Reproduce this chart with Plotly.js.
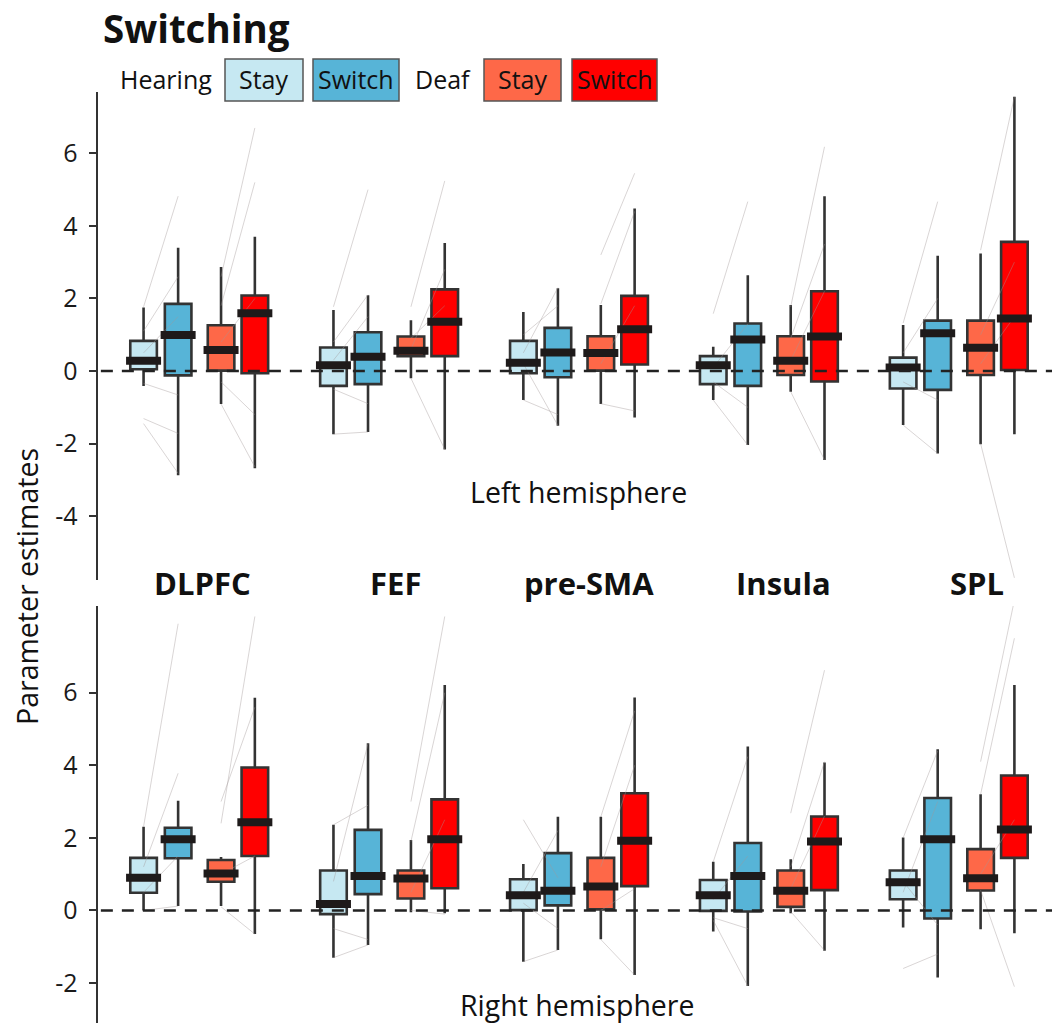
<!DOCTYPE html>
<html>
<head>
<meta charset="utf-8">
<script src="https://cdn.plot.ly/plotly-3.0.1.min.js"></script>
<style>html,body{margin:0;padding:0;background:#fff;}#chart{width:1052px;height:1026px;}</style>
</head>
<body>
<div id="chart"></div>
<script>
// ---------- DATA ----------
const rois = ['DLPFC', 'FEF', 'pre-SMA', 'Insula', 'SPL'];
const groupLabels = ['Hearing', 'Deaf'];
const conditionLabels = ['Stay', 'Switch'];
const panelTitles = ['Left hemisphere', 'Right hemisphere'];
const chartTitle = 'Switching';
const yAxisTitle = 'Parameter estimates';
const leftTickVals = [-4, -2, 0, 2, 4, 6];
const leftTickText = ['-4', '-2', '0', '2', '4', '6'];
const rightTickVals = [-2, 0, 2, 4, 6];
const rightTickText = ['-2', '0', '2', '4', '6'];

// per ROI: [lower whisker, q1, median, q3, upper whisker]
const leftHearingStay = [
  [-0.41, 0.05, 0.28, 0.83, 1.75],
  [-1.74, -0.41, 0.16, 0.65, 1.68],
  [-0.80, -0.06, 0.23, 0.83, 1.63],
  [-0.80, -0.36, 0.16, 0.41, 0.67],
  [-1.49, -0.48, 0.10, 0.37, 1.27]
];
const leftHearingSwitch = [
  [-2.87, -0.12, 0.99, 1.85, 3.40],
  [-1.68, -0.36, 0.39, 1.07, 2.09],
  [-1.51, -0.17, 0.51, 1.19, 2.28],
  [-2.04, -0.41, 0.87, 1.31, 2.64],
  [-2.27, -0.52, 1.04, 1.39, 3.18]
];
const leftDeafStay = [
  [-0.91, 0.01, 0.58, 1.26, 2.87],
  [-0.20, 0.41, 0.56, 0.95, 1.40],
  [-0.91, 0.01, 0.50, 0.96, 1.82],
  [-0.57, -0.11, 0.28, 0.96, 1.82],
  [-2.02, -0.11, 0.64, 1.39, 3.24]
];
const leftDeafSwitch = [
  [-2.68, -0.06, 1.59, 2.08, 3.70],
  [-2.16, 0.41, 1.36, 2.25, 3.53],
  [-1.28, 0.18, 1.15, 2.07, 4.48],
  [-2.45, -0.29, 0.95, 2.20, 4.82],
  [-1.74, 0.03, 1.45, 3.56, 7.56]
];
const rightHearingStay = [
  [0.00, 0.49, 0.90, 1.45, 2.31],
  [-1.30, -0.10, 0.18, 1.10, 2.36],
  [-1.41, 0.01, 0.42, 0.86, 1.28],
  [-0.58, -0.01, 0.42, 0.84, 1.34],
  [-0.47, 0.31, 0.78, 1.10, 2.01]
];
const rightHearingSwitch = [
  [0.12, 1.44, 1.96, 2.28, 3.02],
  [-0.95, 0.45, 0.95, 2.22, 4.61],
  [-1.09, 0.14, 0.54, 1.58, 2.58],
  [-2.08, -0.03, 0.95, 1.86, 4.52],
  [-1.85, -0.22, 1.96, 3.10, 4.44]
];
const rightDeafStay = [
  [0.12, 0.79, 1.02, 1.39, 1.47],
  [-0.05, 0.33, 0.88, 1.10, 1.94],
  [-0.79, 0.03, 0.66, 1.45, 2.58],
  [-0.08, 0.10, 0.54, 1.10, 1.41],
  [-0.52, 0.55, 0.89, 1.69, 3.20]
];
const rightDeafSwitch = [
  [-0.65, 1.50, 2.43, 3.94, 5.86],
  [-0.08, 0.61, 1.96, 3.06, 6.21],
  [-1.78, 0.67, 1.92, 3.23, 5.87],
  [-1.11, 0.56, 1.90, 2.59, 4.08],
  [-0.63, 1.45, 2.23, 3.72, 6.21]
];

// individual subjects: [roi index, stay value, switch value]
const leftHearingSubjects = [
  [0, 1.77, 4.82], [0, -1.31, -1.72], [0, -1.45, -2.82], [0, 0.5, 1.5], [0, -0.34, -0.66], [0, 1.1, 2.6],
  [1, 1.77, 5.0], [1, -1.74, -1.68], [1, 0.3, 1.5], [1, -0.5, -0.9], [1, 0.8, 2.1],
  [2, 0.5, 2.3], [2, -0.8, -1.2], [2, 0.2, -1.5], [2, 1.0, 1.8],
  [3, 1.58, 4.67], [3, -0.8, -2.04], [3, 0.1, 1.3], [3, -0.3, -1.0],
  [4, 1.32, 4.67], [4, -1.49, -2.27], [4, 0.5, 2.0], [4, -0.3, -0.8]
];
const leftDeafSubjects = [
  [0, 2.6, 6.7], [0, 1.8, 5.2], [0, -0.91, -2.64], [0, -0.3, -1.2], [0, 0.8, 2.0],
  [1, 1.77, 5.24], [1, -0.2, -2.16], [1, 0.6, 2.8], [1, 0.9, 1.8],
  [2, 3.2, 5.45], [2, 1.85, 4.4], [2, -0.9, -1.1], [2, 0.2, 1.8],
  [3, 1.77, 6.18], [3, -0.57, -2.45], [3, 0.3, 2.2], [3, 0.9, 3.5],
  [4, 3.33, 7.56], [4, -2.0, -5.7], [4, 1.0, 3.0], [4, 0.2, 1.5]
];
const rightHearingSubjects = [
  [0, 2.31, 7.9], [0, 1.2, 3.78], [0, 0.0, 0.12], [0, 0.5, 1.5],
  [1, 2.36, 2.9], [1, -1.3, -0.95], [1, -0.5, -0.8], [1, 0.8, 4.6],
  [2, 2.5, 0.9], [2, -1.41, -1.09], [2, 0.5, 2.2], [2, 0.2, -0.5],
  [3, 1.34, 4.24], [3, -0.27, -2.08], [3, 0.3, 1.5], [3, -0.2, -0.5],
  [4, 2.0, 4.4], [4, -1.6, -1.2], [4, 0.5, 3.0], [4, 0.8, -0.4]
];
const rightDeafSubjects = [
  [0, 2.4, 8.1], [0, 3.0, 5.6], [0, 0.1, -0.65], [0, 1.0, 1.5],
  [1, 3.0, 8.1], [1, 1.9, 6.0], [1, 0.0, -0.1], [1, 0.5, 2.5],
  [2, 2.58, 5.5], [2, 1.2, 4.0], [2, -0.8, -1.78], [2, 0.0, 0.6],
  [3, 2.68, 6.62], [3, -0.03, -1.1], [3, 0.6, 2.6], [3, 1.2, 4.1],
  [4, 4.1, 8.55], [4, 3.2, 7.5], [4, 0.56, -2.1], [4, 1.0, 2.5]
];

// ---------- STYLE ----------
const FONT = 'Open Sans, DejaVu Sans, sans-serif';
const fills = ['#c6e8f2', '#57b4d7', '#fe6848', '#ff0000'];
const offsets = [-0.294, -0.112, 0.114, 0.292];
const boxW = 0.14;
const W = 1052, H = 1026, L = 98;
const px2x = p => (p - L) / (W - L);
const py2y = p => 1 - p / H;

const traces = [];
const panels = [
  {ax: 'x', ay: 'y', sets: [leftHearingStay, leftHearingSwitch, leftDeafStay, leftDeafSwitch],
   subj: [leftHearingSubjects, leftDeafSubjects]},
  {ax: 'x2', ay: 'y2', sets: [rightHearingStay, rightHearingSwitch, rightDeafStay, rightDeafSwitch],
   subj: [rightHearingSubjects, rightDeafSubjects]}
];

panels.forEach(p => {
  // boxes
  p.sets.forEach((s, k) => {
    traces.push({
      type: 'box', xaxis: p.ax, yaxis: p.ay,
      x: rois.map((r, i) => i + offsets[k]),
      lowerfence: s.map(v => v[0]), q1: s.map(v => v[1]), median: s.map(v => v[2]),
      q3: s.map(v => v[3]), upperfence: s.map(v => v[4]),
      width: boxW, fillcolor: fills[k], line: {color: '#333333', width: 2.6},
      whiskerwidth: 0, boxpoints: false, hoverinfo: 'skip', showlegend: false
    });
  });
  // subject lines
  p.subj.forEach((list, g) => {
    const xs = [], ys = [];
    list.forEach(d => {
      xs.push(d[0] + offsets[2 * g], d[0] + offsets[2 * g + 1], null);
      ys.push(d[1], d[2], null);
    });
    traces.push({
      type: 'scatter', mode: 'lines', xaxis: p.ax, yaxis: p.ay, x: xs, y: ys,
      line: {color: 'rgba(160,150,150,0.45)', width: 0.9}, hoverinfo: 'skip', showlegend: false
    });
  });
  // thick medians
  p.sets.forEach((s, k) => {
    traces.push({
      type: 'scatter', mode: 'markers', xaxis: p.ax, yaxis: p.ay,
      x: rois.map((r, i) => i + offsets[k]), y: s.map(v => v[2]),
      marker: {symbol: 'line-ew', size: 25, color: '#1e1a1a', line: {color: '#1e1a1a', width: 8}},
      hoverinfo: 'skip', showlegend: false, cliponaxis: false
    });
  });
});

const yCommon = {
  showline: true, linecolor: '#333333', linewidth: 2.5, ticks: 'outside', ticklen: 7,
  tickwidth: 2, tickcolor: '#333333', showgrid: false, zeroline: false,
  tickfont: {family: FONT, size: 25, color: '#1a1a1a'}, ticklabelstandoff: 6, fixedrange: true
};
const xCommon = {visible: false, range: [-0.534, 4.49], fixedrange: true};

const shapes = [];
const annotations = [];
['y', 'y2'].forEach(yr => {
  shapes.push({type: 'line', xref: 'paper', yref: yr, x0: 0.003, x1: 1, y0: 0, y1: 0,
    line: {color: '#222', width: 2.5, dash: '12px,9px'}, layer: 'above'});
});

// ROI labels
rois.forEach((r, i) => {
  annotations.push({text: '<b>' + r + '</b>', xref: 'x', yref: 'paper', x: 0.014 + i * 1.02,
    y: py2y(583), xanchor: 'center', yanchor: 'middle', showarrow: false,
    font: {family: FONT, size: 31, color: '#111'}});
});
// hemisphere labels
annotations.push({text: panelTitles[0], xref: 'paper', yref: 'paper', x: px2x(578), y: py2y(492),
  xanchor: 'center', yanchor: 'middle', showarrow: false, font: {family: FONT, size: 28.5, color: '#111'}});
annotations.push({text: panelTitles[1], xref: 'paper', yref: 'paper', x: px2x(577), y: py2y(1005),
  xanchor: 'center', yanchor: 'middle', showarrow: false, font: {family: FONT, size: 28.5, color: '#111'}});
// y title
annotations.push({text: yAxisTitle, xref: 'paper', yref: 'paper', x: px2x(27), y: py2y(587),
  xanchor: 'center', yanchor: 'middle', textangle: -90, showarrow: false,
  font: {family: FONT, size: 28.5, color: '#111'}});

// custom legend
const legendItems = [
  {type: 'text', text: groupLabels[0], left: 118},
  {type: 'box', text: conditionLabels[0], l: 225, r: 303, fill: fills[0]},
  {type: 'box', text: conditionLabels[1], l: 313, r: 399, fill: fills[1]},
  {type: 'text', text: groupLabels[1], left: 413},
  {type: 'box', text: conditionLabels[0], l: 484, r: 561, fill: fills[2]},
  {type: 'box', text: conditionLabels[1], l: 572, r: 657, fill: fills[3]}
];
legendItems.forEach(it => {
  if (it.type === 'text') {
    annotations.push({text: it.text, xref: 'paper', yref: 'paper', x: px2x(it.left), y: py2y(79),
      xanchor: 'left', yanchor: 'middle', showarrow: false, font: {family: FONT, size: 25, color: '#111'}});
  } else {
    shapes.push({type: 'rect', xref: 'paper', yref: 'paper', x0: px2x(it.l), x1: px2x(it.r),
      y0: py2y(101), y1: py2y(59), fillcolor: it.fill, line: {color: '#555', width: 1.5}, layer: 'above'});
    annotations.push({text: it.text, xref: 'paper', yref: 'paper', x: px2x((it.l + it.r) / 2), y: py2y(79),
      xanchor: 'center', yanchor: 'middle', showarrow: false, font: {family: FONT, size: 25, color: '#111'}});
  }
});

const layout = {
  width: W, height: H, margin: {l: L, r: 0, t: 0, b: 0}, paper_bgcolor: '#fff', plot_bgcolor: '#fff',
  showlegend: false, boxmode: 'overlay',
  title: {text: chartTitle, xref: 'container', yref: 'container', x: 103 / W, xanchor: 'left',
    y: 1 - 30 / H, yanchor: 'middle', font: {family: FONT, size: 38.5, weight: 700, color: '#111'}},
  xaxis: Object.assign({}, xCommon, {domain: [0, 1], anchor: 'y'}),
  xaxis2: Object.assign({}, xCommon, {domain: [0, 1], anchor: 'y2'}),
  yaxis: Object.assign({}, yCommon, {domain: [0.4347, 0.9103], range: [-5.76, 7.69],
    tickvals: leftTickVals, ticktext: leftTickText, anchor: 'x'}),
  yaxis2: Object.assign({}, yCommon, {domain: [0.0026, 0.4094], range: [-3.11, 8.39],
    tickvals: rightTickVals, ticktext: rightTickText, anchor: 'x2'}),
  shapes: shapes, annotations: annotations
};

Plotly.newPlot('chart', traces, layout, {displayModeBar: false, staticPlot: true});
</script>
</body>
</html>
